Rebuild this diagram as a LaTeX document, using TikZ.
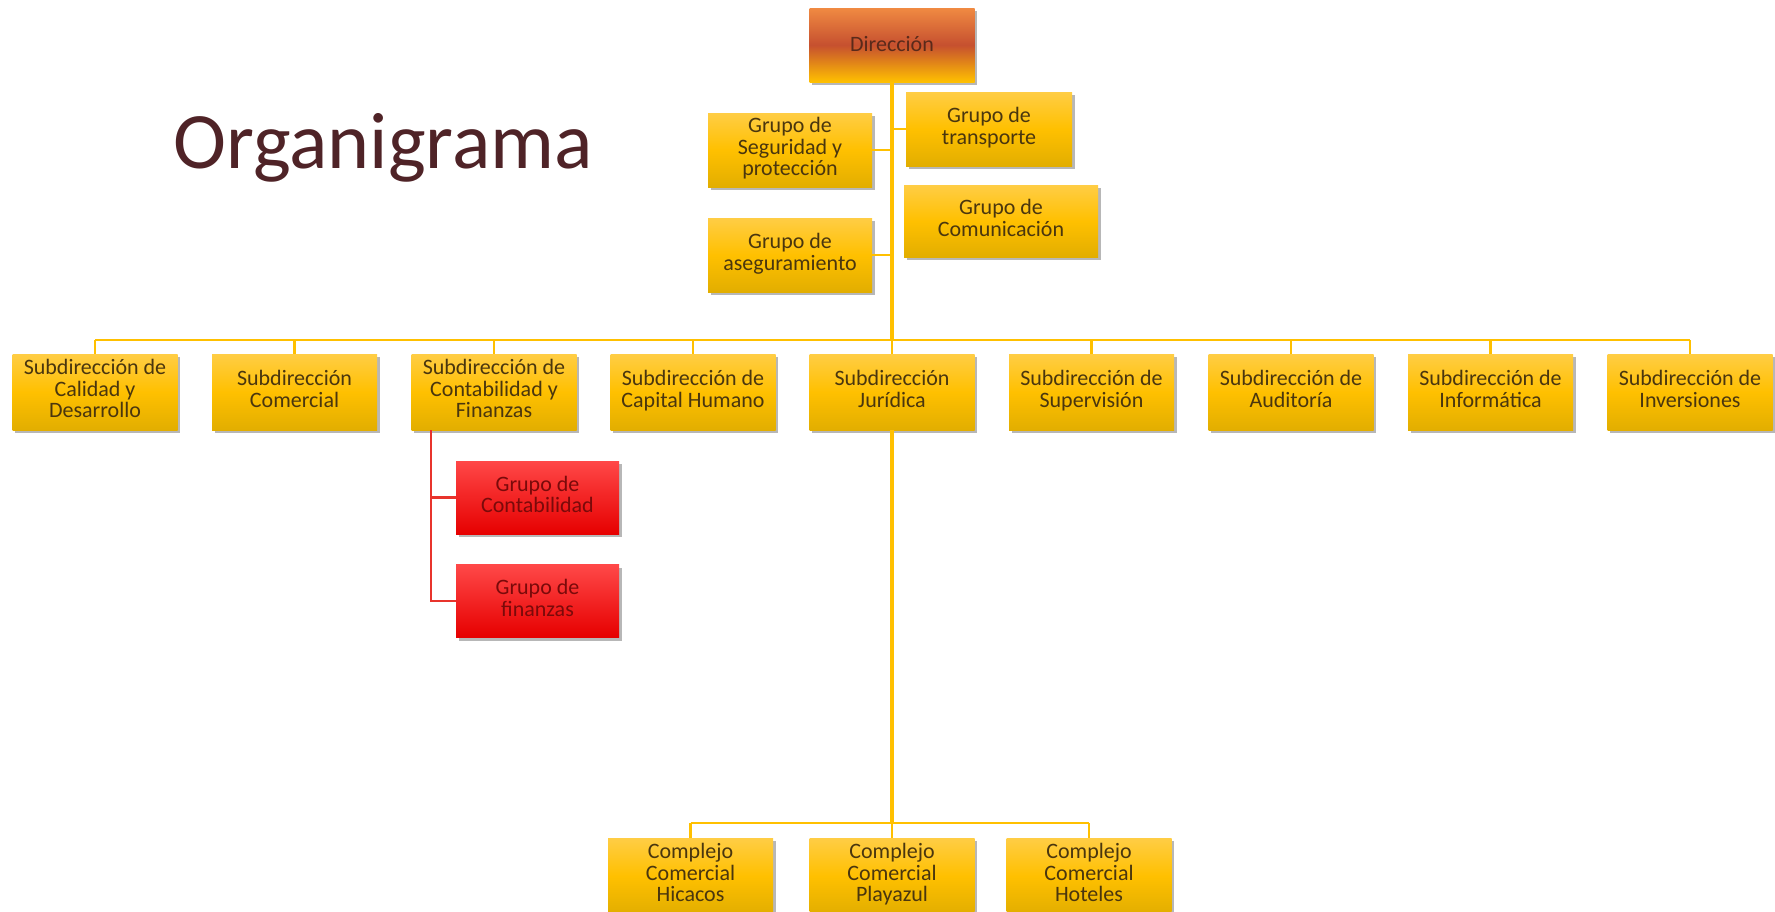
\documentclass[tikz,border=0pt]{standalone}
\usepackage{fontspec}
\setmainfont{Carlito}
\usetikzlibrary{shadows}

\definecolor{goldtop}{HTML}{FFCD45}
\definecolor{goldmid}{HTML}{FFC000}
\definecolor{goldbot}{HTML}{E2AE00}
\definecolor{boxtext}{HTML}{4A360E}
\definecolor{dirtop}{HTML}{F08A42}
\definecolor{dirmid}{HTML}{C6502F}
\definecolor{dirtext}{HTML}{5A2A1A}
\definecolor{redtop}{HTML}{FF4848}
\definecolor{redbot}{HTML}{E60000}
\definecolor{redtext}{HTML}{7A0A0A}
\definecolor{redline}{HTML}{E8342C}
\definecolor{linegold}{HTML}{FFC000}
\definecolor{titlecol}{HTML}{4F2327}

\tikzset{
  unitbox/.style={rectangle, inner sep=0pt, align=center,
    font=\fontsize{11}{10.75}\selectfont,
    execute at begin node=\rule{0pt}{9.7pt}, execute at end node=\strut,
    drop shadow={shadow xshift=1.3pt, shadow yshift=-1.6pt, opacity=0.4, fill=black!70}},
  goldbox/.style={unitbox, top color=goldtop, bottom color=goldbot, middle color=goldmid,
    text=boxtext, minimum width=82.5pt, minimum height=38pt},
  dirbox/.style={unitbox, top color=dirtop, bottom color=goldmid, middle color=dirmid,
    text=dirtext, minimum width=82.5pt, minimum height=37pt},
  redbox/.style={unitbox, top color=redtop, bottom color=redbot,
    text=redtext, minimum width=81.5pt, minimum height=36.5pt},
  trunk/.style={draw=linegold, line width=1.6pt},
  link/.style={draw=linegold, line width=1.1pt},
  redlink/.style={draw=redline, line width=1.1pt},
}

\begin{document}
\begin{tikzpicture}[x=0.5pt, y=-0.5pt]
  \useasboundingbox (0,0) rectangle (1775,911);

  % title
  \node[anchor=base west, inner sep=0pt, text=titlecol,
        font=\fontsize{40}{42}\selectfont] (title) at (173,168) {Organigrama};

  % top of the chart
  \node[dirbox] (dir) at (892,45) {Dirección};

  \node[goldbox, minimum width=82pt, minimum height=37pt] (seg) at (790,150)
    {Grupo de\\Seguridad y\\protección};
  \node[goldbox, minimum width=83pt, minimum height=37pt] (trans) at (989,129)
    {Grupo de\\transporte};
  \node[goldbox, minimum width=97pt, minimum height=36pt] (com) at (1001,221)
    {Grupo de\\Comunicación};
  \node[goldbox, minimum width=82pt, minimum height=37pt] (aseg) at (790,255)
    {Grupo de\\aseguramiento};

  % subdirections
  \node[goldbox] (s1) at (95,392)   {Subdirección de\\Calidad y\\Desarrollo};
  \node[goldbox] (s2) at (294.5,392){Subdirección\\Comercial};
  \node[goldbox] (s3) at (494,392)  {Subdirección de\\Contabilidad y\\Finanzas};
  \node[goldbox] (s4) at (693,392)  {Subdirección de\\Capital Humano};
  \node[goldbox] (s5) at (892,392)  {Subdirección\\Jurídica};
  \node[goldbox] (s6) at (1091.5,392){Subdirección de\\Supervisión};
  \node[goldbox] (s7) at (1291,392) {Subdirección de\\Auditoría};
  \node[goldbox] (s8) at (1490.5,392){Subdirección de\\Informática};
  \node[goldbox] (s9) at (1690,392) {Subdirección de\\Inversiones};

  % groups under accounting and finance
  \node[redbox] (gc) at (537.5,497.5) {Grupo de\\Contabilidad};
  \node[redbox] (gf) at (537.5,601)   {Grupo de\\finanzas};

  % commercial complexes
  \node[goldbox] (c1) at (690.5,876) {Complejo\\Comercial\\Hicacos};
  \node[goldbox] (c2) at (892,876)   {Complejo\\Comercial\\Playazul};
  \node[goldbox] (c3) at (1089,876)  {Complejo\\Comercial\\Hoteles};

  % junction points
  \coordinate (bus) at (892,340);
  \coordinate (cbus) at (892,823);
  \coordinate (redx) at (431,430);

  % main trunk and side groups
  \draw[trunk] (dir.south) -- (bus);
  \draw[link] (seg.east) -- (seg.east -| dir.south);
  \draw[link] (trans.west) -- (trans.west -| dir.south);
  \draw[link] (aseg.east) -- (aseg.east -| dir.south);

  % bus to subdirections
  \draw[link] (s1.north |- bus) -- (s9.north |- bus);
  \foreach \s in {s1,s2,s3,s4,s5,s6,s7,s8,s9}
    \draw[link] (\s.north |- bus) -- (\s.north);

  % accounting groups
  \draw[redlink] (redx) |- (gc.west);
  \draw[redlink] (redx) |- (gf.west);

  % complexes under the legal department
  \draw[trunk] (s5.south) -- (cbus);
  \draw[link] (c1.north |- cbus) -- (c3.north |- cbus);
  \foreach \c in {c1,c2,c3}
    \draw[link] (\c.north |- cbus) -- (\c.north);
\end{tikzpicture}
\end{document}
